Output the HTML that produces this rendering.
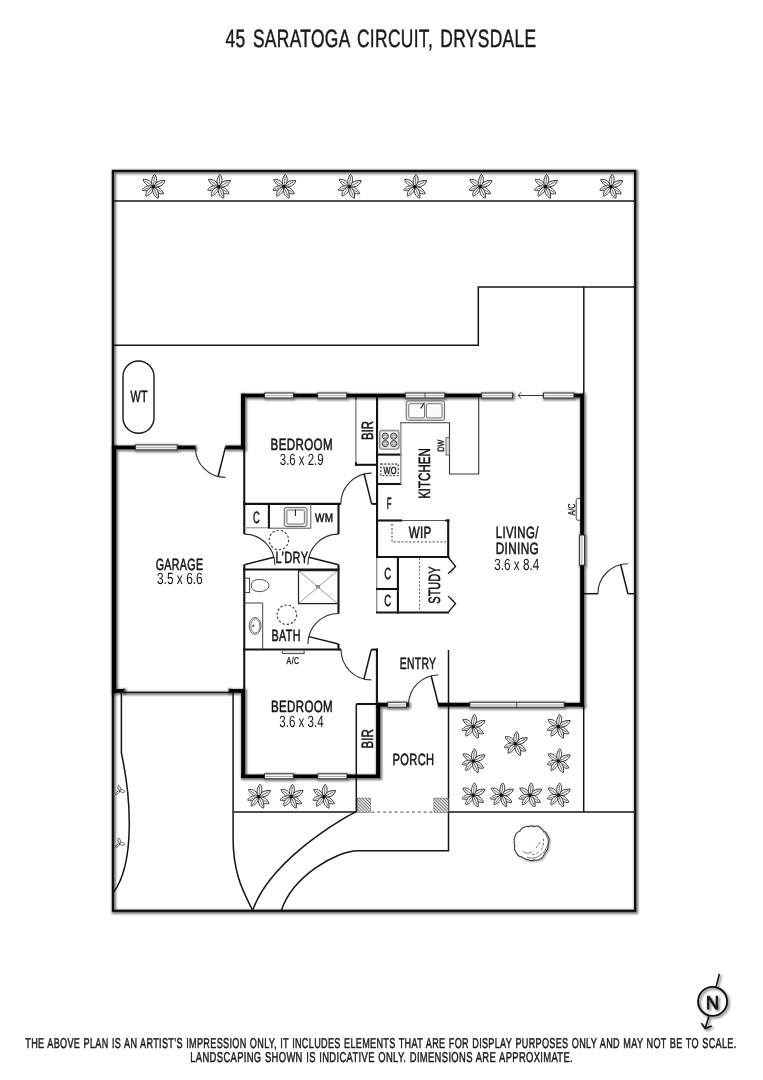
<!DOCTYPE html>
<html lang="en"><head><meta charset="utf-8"><title>45 Saratoga Circuit, Drysdale - Floor Plan</title>
<style>
html,body{margin:0;padding:0;background:#fff;}
body{width:763px;height:1080px;overflow:hidden;}
svg{display:block;will-change:transform;text-rendering:geometricPrecision;font-family:"Liberation Sans",sans-serif;}
</style></head><body>
<svg width="763" height="1080" viewBox="0 0 763 1080">
<defs>
<filter id="sh" x="-5%" y="-5%" width="110%" height="110%" filterUnits="userSpaceOnUse" >
<feMorphology in="SourceAlpha" operator="dilate" radius="0.6" result="d"/>
<feOffset in="d" dx="1.4" dy="1.4" result="o"/>
<feGaussianBlur in="o" stdDeviation="0.9" result="b"/>
<feComponentTransfer in="b" result="s"><feFuncA type="linear" slope="0.56"/></feComponentTransfer>
<feMerge><feMergeNode in="s"/><feMergeNode in="SourceGraphic"/></feMerge>
</filter>
<filter id="sh2" x="670" y="950" width="90" height="100" filterUnits="userSpaceOnUse">
<feDropShadow dx="1.6" dy="1.6" stdDeviation="1.2" flood-color="#000" flood-opacity="0.6"/>
</filter>
<filter id="sh3" x="500" y="810" width="70" height="70" filterUnits="userSpaceOnUse">
<feDropShadow dx="1" dy="1" stdDeviation="0.8" flood-color="#000" flood-opacity="0.3"/>
</filter>
<g id="petal"><path d="M0,0 C1.8,-2.6 7,-4.2 12.4,-1.4 C10,2.4 4,2.9 0,0 Z" fill="#fff" stroke="#1c1c1c" stroke-width="0.8"/><path d="M0.5,0 C3.5,-0.2 7,-0.6 10.2,-1.1" stroke="#1c1c1c" stroke-width="0.6" fill="none"/></g>
<g id="flower">
<use href="#petal" transform="rotate(-139)"/>
<use href="#petal" transform="rotate(169) scale(0.93)"/>
<use href="#petal" transform="rotate(134) scale(0.96)"/>
<use href="#petal" transform="rotate(40)"/>
<use href="#petal" transform="rotate(-21) scale(1.06)"/>
<use href="#petal" transform="rotate(73)"/>
<use href="#petal" transform="rotate(-78)"/>
<circle r="1.7" fill="#111"/>
</g>
<g id="sprig">
<path d="M0,0 C-2.2,-1.5 -2.4,-4.2 -1.1,-5.6 C0.6,-4.6 1.2,-2 0,0 Z" fill="#fff" stroke="#222" stroke-width="0.7"/>
<path d="M0,0 C1.2,-2 3.8,-1.6 5,0.8 C3.6,2.3 1.2,2 0,0 Z" fill="#fff" stroke="#222" stroke-width="0.7"/>
<path d="M0,0 C-0.4,2.3 -2.4,3.9 -4.3,3.6 C-4.2,1.6 -2.3,0 0,0 Z" fill="#fff" stroke="#222" stroke-width="0.7"/>
</g>
<pattern id="hatch" width="2.2" height="2.2" patternUnits="userSpaceOnUse" patternTransform="rotate(45)">
<rect width="2.2" height="2.2" fill="#e6e6e6"/><line x1="0" y1="0" x2="2.2" y2="0" stroke="#333" stroke-width="1.1"/>
</pattern>
</defs>
<rect width="763" height="1080" fill="#fff"/>

<text x="225.60" y="46.90" font-size="25" textLength="310.90" lengthAdjust="spacingAndGlyphs" fill="#1a1a1a" stroke="#1a1a1a" stroke-width="0.5" letter-spacing="0.5" word-spacing="3">45 SARATOGA CIRCUIT, DRYSDALE</text>
<g filter="url(#sh)">
<rect x="112.90" y="170.90" width="522.20" height="739.90" fill="none" stroke="#0a0a0a" stroke-width="2.1" />
</g>
<line x1="112.90" y1="200.90" x2="635.10" y2="200.90" stroke="#141414" stroke-width="1.5" />
<path d="M635.1,287 H478.3 V345.2 H112.9" stroke="#141414" stroke-width="1.5" fill="none" />
<line x1="583.80" y1="287.00" x2="583.80" y2="394.00" stroke="#141414" stroke-width="1.5" />
<line x1="583.70" y1="706.00" x2="583.70" y2="812.00" stroke="#141414" stroke-width="1.5" />
<line x1="448.50" y1="812.00" x2="635.10" y2="812.00" stroke="#141414" stroke-width="1.5" />
<path d="M448.5,650 V850.7 H357.9 C336.5,850.8 292.9,876 281.4,910.3" stroke="#141414" stroke-width="1.5" fill="none" />
<line x1="583.80" y1="593.70" x2="598.10" y2="593.70" stroke="#141414" stroke-width="1.5" />
<line x1="627.90" y1="593.70" x2="635.10" y2="593.70" stroke="#141414" stroke-width="1.5" />
<path d="M121.4,692.5 V753 C131.3,798.8 135,863.2 113.5,892.4" stroke="#141414" stroke-width="1.5" fill="none" />
<path d="M233.1,692.5 V835 C232.4,875.8 245.7,895.6 252.6,910.3" stroke="#141414" stroke-width="1.5" fill="none" />
<path d="M233.1,812 H356.3" stroke="#141414" stroke-width="1.5" fill="none" />
<line x1="356.30" y1="704.00" x2="356.30" y2="812.00" stroke="#141414" stroke-width="1.5" />
<path d="M356.4,811.8 C360.2,808.8 273,853.5 252.6,910.3" stroke="#141414" stroke-width="1.5" fill="none" />
<use href="#flower" x="153.3" y="186.7"/>
<use href="#flower" x="218.7" y="186.7"/>
<use href="#flower" x="284.0" y="186.7"/>
<use href="#flower" x="349.4" y="186.7"/>
<use href="#flower" x="414.8" y="186.7"/>
<use href="#flower" x="480.2" y="186.7"/>
<use href="#flower" x="545.5" y="186.7"/>
<use href="#flower" x="610.9" y="186.7"/>
<use href="#flower" x="473.2" y="726.7"/>
<use href="#flower" x="558.4" y="726.7"/>
<use href="#flower" x="515.5" y="743.9"/>
<use href="#flower" x="473.2" y="761.1"/>
<use href="#flower" x="558.4" y="761.1"/>
<use href="#flower" x="473.2" y="795.3"/>
<use href="#flower" x="501.5" y="795.3"/>
<use href="#flower" x="530" y="795.3"/>
<use href="#flower" x="558.4" y="795.3"/>
<use href="#flower" x="258.7" y="796.7"/>
<use href="#flower" x="291.2" y="796.7"/>
<use href="#flower" x="323.9" y="796.7"/>
<use href="#sprig" x="119.8" y="790.8"/><use href="#sprig" x="119.8" y="843.6"/>
<g filter="url(#sh3)">
<path d="M548.28,843.20 Q548.97,844.57 547.86,845.79 Q548.66,847.34 547.70,848.46 Q547.85,849.95 546.33,850.76 Q546.36,852.30 544.85,852.90 Q544.89,854.66 543.55,855.25 Q543.36,857.14 542.00,857.66 Q541.24,859.07 539.53,858.95 Q538.58,860.29 536.95,859.96 Q535.75,860.73 534.12,859.75 Q532.88,861.00 531.50,860.46 Q530.11,861.04 528.87,859.84 Q527.40,860.32 526.35,859.06 Q524.82,859.34 523.98,857.96 Q522.35,858.12 521.66,856.75 Q519.67,856.98 518.85,855.85 Q517.32,855.32 517.16,853.62 Q515.68,852.90 515.74,851.23 Q514.38,850.29 514.68,848.66 Q513.97,847.45 515.00,845.81 Q513.90,844.58 514.60,843.20 Q513.56,841.77 514.31,840.48 Q513.67,838.91 514.79,837.77 Q514.40,836.11 515.67,835.13 Q515.61,833.46 517.09,832.73 Q517.76,831.54 519.81,831.51 Q519.96,829.64 521.29,829.15 Q521.96,827.62 523.57,827.63 Q524.53,826.40 526.18,826.83 Q527.32,825.90 528.89,826.72 Q530.13,825.48 531.50,826.04 Q532.86,825.55 534.09,826.86 Q535.77,825.65 537.03,826.18 Q538.65,825.94 539.57,827.35 Q541.08,827.52 541.65,829.22 Q543.13,829.56 543.44,831.26 Q545.38,831.40 545.94,832.71 Q547.20,833.55 546.93,835.34 Q548.52,836.17 548.44,837.70 Q549.61,838.85 549.04,840.42 Q549.56,841.74 548.28,843.20 Z" stroke="#3c3c3c" stroke-width="1.1" fill="#fff" />
</g>
<path d="M523,851.5 C526,854 530,853.5 532,851.5" stroke="#555" stroke-width="0.8" fill="none" />
<path d="M532,854 C535,855.5 538,853 539,850" stroke="#555" stroke-width="0.8" fill="none" stroke-dasharray="3 1.5"/>
<path d="M536,848 C538,845 540,843 541,841" stroke="#555" stroke-width="0.8" fill="none" stroke-dasharray="3 1.5"/>
<path d="M527,857 C535,861 546,854 548,843 C548.5,838 546,834 542.5,831" stroke="#555" stroke-width="0.8" fill="none" />
<path d="M541,850 C543.5,846 544.5,842 543,838" stroke="#555" stroke-width="0.8" fill="none" stroke-dasharray="3 1.5"/>
<rect x="123" y="361" width="31" height="72.3" rx="15.5" ry="15.5" fill="#fff" stroke="#141414" stroke-width="1.4"/>
<text x="130.40" y="402.10" font-size="16.3" textLength="17.40" lengthAdjust="spacingAndGlyphs" fill="#141414" stroke="#141414" stroke-width="0.55" letter-spacing="0.5" >WT</text>
<rect x="357.30" y="798.10" width="13.30" height="14.30" fill="url(#hatch)" stroke="#555" stroke-width="0.5" />
<rect x="433.90" y="798.10" width="14.40" height="14.30" fill="url(#hatch)" stroke="#555" stroke-width="0.5" />
<line x1="371.50" y1="812.10" x2="433.90" y2="812.10" stroke="#444" stroke-width="1" stroke-dasharray="2.8 3"/>
<g filter="url(#sh)" fill="#050505">
<rect x="112.20" y="445.60" width="3.80" height="247.20" fill="#050505" stroke="none" stroke-width="0" />
<rect x="112.20" y="445.60" width="23.40" height="3.60" fill="#050505" stroke="none" stroke-width="0" />
<rect x="176.90" y="445.60" width="18.50" height="3.60" fill="#050505" stroke="none" stroke-width="0" />
<rect x="225.40" y="445.60" width="19.50" height="3.60" fill="#050505" stroke="none" stroke-width="0" />
<rect x="112.20" y="689.05" width="11.50" height="3.70" fill="#050505" stroke="none" stroke-width="0" />
<rect x="229.40" y="689.05" width="15.60" height="3.70" fill="#050505" stroke="none" stroke-width="0" />
<rect x="241.05" y="393.70" width="3.90" height="55.50" fill="#050505" stroke="none" stroke-width="0" />
<rect x="241.05" y="393.70" width="23.75" height="3.60" fill="#050505" stroke="none" stroke-width="0" />
<rect x="293.10" y="393.70" width="24.70" height="3.60" fill="#050505" stroke="none" stroke-width="0" />
<rect x="346.40" y="393.70" width="59.20" height="3.60" fill="#050505" stroke="none" stroke-width="0" />
<rect x="444.50" y="393.70" width="37.40" height="3.60" fill="#050505" stroke="none" stroke-width="0" />
<rect x="573.70" y="393.70" width="10.35" height="3.60" fill="#050505" stroke="none" stroke-width="0" />
<rect x="580.18" y="393.70" width="3.85" height="141.60" fill="#050505" stroke="none" stroke-width="0" />
<rect x="580.18" y="564.90" width="3.85" height="141.65" fill="#050505" stroke="none" stroke-width="0" />
<rect x="376.20" y="702.85" width="11.70" height="3.70" fill="#050505" stroke="none" stroke-width="0" />
<rect x="406.40" y="702.85" width="2.50" height="3.70" fill="#050505" stroke="none" stroke-width="0" />
<rect x="438.00" y="702.85" width="32.10" height="3.70" fill="#050505" stroke="none" stroke-width="0" />
<rect x="563.90" y="702.85" width="20.15" height="3.70" fill="#050505" stroke="none" stroke-width="0" />
<rect x="376.15" y="702.85" width="3.90" height="75.15" fill="#050505" stroke="none" stroke-width="0" />
<rect x="241.20" y="689.10" width="3.80" height="88.90" fill="#050505" stroke="none" stroke-width="0" />
<rect x="241.20" y="774.55" width="23.60" height="3.50" fill="#050505" stroke="none" stroke-width="0" />
<rect x="293.10" y="774.55" width="24.90" height="3.50" fill="#050505" stroke="none" stroke-width="0" />
<rect x="346.40" y="774.55" width="33.65" height="3.50" fill="#050505" stroke="none" stroke-width="0" />
<rect x="135.40" y="444.95" width="41.70" height="4.90" fill="#f8f8f8" stroke="#262626" stroke-width="0.9" />
<line x1="135.90" y1="447.60" x2="176.60" y2="447.60" stroke="#999" stroke-width="0.8" />
<rect x="264.60" y="393.05" width="28.70" height="4.90" fill="#f8f8f8" stroke="#262626" stroke-width="0.9" />
<line x1="265.10" y1="395.70" x2="292.80" y2="395.70" stroke="#999" stroke-width="0.8" />
<rect x="317.60" y="393.05" width="29.00" height="4.90" fill="#f8f8f8" stroke="#262626" stroke-width="0.9" />
<line x1="318.10" y1="395.70" x2="346.10" y2="395.70" stroke="#999" stroke-width="0.8" />
<rect x="405.40" y="393.05" width="39.30" height="4.90" fill="#f8f8f8" stroke="#262626" stroke-width="0.9" />
<line x1="405.90" y1="395.70" x2="444.20" y2="395.70" stroke="#999" stroke-width="0.8" />
<line x1="425.00" y1="393.05" x2="425.00" y2="397.95" stroke="#333" stroke-width="0.8" />
<rect x="481.70" y="393.05" width="30.80" height="4.90" fill="#f8f8f8" stroke="#262626" stroke-width="0.9" />
<line x1="482.20" y1="395.70" x2="512.00" y2="395.70" stroke="#999" stroke-width="0.8" />
<rect x="543.50" y="393.05" width="30.40" height="4.90" fill="#f8f8f8" stroke="#262626" stroke-width="0.9" />
<line x1="544.00" y1="395.70" x2="573.40" y2="395.70" stroke="#999" stroke-width="0.8" />
<rect x="579.65" y="535.10" width="4.90" height="30.00" fill="#f8f8f8" stroke="#262626" stroke-width="0.9" />
<line x1="581.90" y1="535.60" x2="581.90" y2="564.60" stroke="#999" stroke-width="0.8" />
<rect x="387.70" y="702.25" width="18.90" height="4.90" fill="#f8f8f8" stroke="#262626" stroke-width="0.9" />
<line x1="388.20" y1="704.90" x2="406.10" y2="704.90" stroke="#999" stroke-width="0.8" />
<rect x="469.90" y="702.25" width="94.20" height="4.90" fill="#f8f8f8" stroke="#262626" stroke-width="0.9" />
<line x1="470.40" y1="704.90" x2="563.60" y2="704.90" stroke="#999" stroke-width="0.8" />
<line x1="516.70" y1="702.25" x2="516.70" y2="707.15" stroke="#333" stroke-width="0.8" />
<rect x="264.60" y="773.85" width="28.70" height="4.90" fill="#f8f8f8" stroke="#262626" stroke-width="0.9" />
<line x1="265.10" y1="776.50" x2="292.80" y2="776.50" stroke="#999" stroke-width="0.8" />
<rect x="317.80" y="773.85" width="29.10" height="4.90" fill="#f8f8f8" stroke="#262626" stroke-width="0.9" />
<line x1="318.30" y1="776.50" x2="346.40" y2="776.50" stroke="#999" stroke-width="0.8" />
</g>
<path d="M543,395.5 H518 M521.3,392.3 L518,395.5 L521.3,398.7" stroke="#222" stroke-width="0.9" fill="none" />
<g filter="url(#sh)">
<path d="M123.9,688.6 V692.4 H229.2 V688.6" stroke="#141414" stroke-width="1.1" fill="none" />
</g>
<line x1="244.25" y1="449.00" x2="244.25" y2="534.10" stroke="#141414" stroke-width="2.1" />
<line x1="244.25" y1="564.70" x2="244.25" y2="690.00" stroke="#141414" stroke-width="2.1" />
<line x1="243.20" y1="503.90" x2="340.90" y2="503.90" stroke="#141414" stroke-width="2.1" />
<line x1="371.60" y1="503.90" x2="378.00" y2="503.90" stroke="#141414" stroke-width="2" />
<line x1="377.05" y1="397.00" x2="377.05" y2="557.00" stroke="#141414" stroke-width="2.1" />
<line x1="376.80" y1="557.00" x2="376.80" y2="612.50" stroke="#666" stroke-width="1" />
<line x1="338.50" y1="503.00" x2="338.50" y2="534.10" stroke="#141414" stroke-width="2.1" />
<line x1="338.50" y1="564.70" x2="338.50" y2="613.90" stroke="#141414" stroke-width="2.1" />
<line x1="338.50" y1="644.00" x2="338.50" y2="650.40" stroke="#141414" stroke-width="2.1" />
<line x1="243.20" y1="569.50" x2="339.50" y2="569.50" stroke="#141414" stroke-width="2.1" />
<line x1="243.20" y1="649.50" x2="341.20" y2="649.50" stroke="#141414" stroke-width="2.1" />
<line x1="371.30" y1="649.60" x2="378.00" y2="649.60" stroke="#141414" stroke-width="2" />
<line x1="376.90" y1="648.60" x2="376.90" y2="703.00" stroke="#141414" stroke-width="2.1" />
<line x1="355.90" y1="397.00" x2="355.90" y2="464.50" stroke="#8e8e8e" stroke-width="1.5" />
<line x1="355.90" y1="397.00" x2="355.90" y2="399.40" stroke="#141414" stroke-width="1.6" />
<line x1="355.90" y1="461.90" x2="355.90" y2="465.80" stroke="#141414" stroke-width="1.8" />
<line x1="355.00" y1="464.80" x2="377.00" y2="464.80" stroke="#141414" stroke-width="2.1" />
<line x1="377.00" y1="454.60" x2="401.40" y2="454.60" stroke="#141414" stroke-width="2.1" />
<line x1="377.00" y1="484.00" x2="401.40" y2="484.00" stroke="#141414" stroke-width="2.1" />
<line x1="400.80" y1="422.70" x2="400.80" y2="484.00" stroke="#8e8e8e" stroke-width="1.4" />
<path d="M400.2,422.7 H449.5 V474 H478.7 V397" stroke="#3a3a3a" stroke-width="1.15" fill="none" />
<line x1="377.00" y1="520.50" x2="402.00" y2="520.50" stroke="#141414" stroke-width="2.1" />
<line x1="402.00" y1="520.50" x2="446.00" y2="520.50" stroke="#555" stroke-width="1" />
<line x1="445.40" y1="520.50" x2="449.40" y2="520.50" stroke="#141414" stroke-width="2.1" />
<line x1="448.20" y1="519.40" x2="448.20" y2="558.00" stroke="#141414" stroke-width="2.1" />
<line x1="376.00" y1="557.00" x2="449.40" y2="557.00" stroke="#141414" stroke-width="2.1" />
<path d="M392,524 V541.8 H446" stroke="#666" stroke-width="1.3" fill="none" stroke-dasharray="2 1.9"/>
<line x1="397.90" y1="557.00" x2="397.90" y2="613.60" stroke="#141414" stroke-width="2.1" />
<line x1="376.00" y1="589.00" x2="399.00" y2="589.00" stroke="#141414" stroke-width="2.1" />
<line x1="376.00" y1="612.50" x2="449.00" y2="612.50" stroke="#141414" stroke-width="2.1" />
<line x1="419.50" y1="558.00" x2="419.50" y2="612.00" stroke="#555" stroke-width="0.9" stroke-dasharray="2 1.8"/>
<path d="M448.4,557.5 L455.6,566.5 L448.1,573.8" stroke="#141414" stroke-width="1.3" fill="none" />
<path d="M448.4,612.2 L455.6,603.5 L448.1,596.1" stroke="#141414" stroke-width="1.3" fill="none" />
<path d="M452.6,568.6 l1.5,1.6 M451.4,569.8 l1.5,1.6 M450.2,571 l1.5,1.6 M452.6,601.4 l1.5,-1.6 M451.4,600.2 l1.5,-1.6 M450.2,599 l1.5,-1.6" stroke="#222" stroke-width="0.7" fill="none" />
<line x1="268.90" y1="504.00" x2="268.90" y2="528.60" stroke="#141414" stroke-width="2.1" />
<path d="M244,527.8 H268" stroke="#777" stroke-width="0.9" fill="none" />
<path d="M268.9,528.2 H310.8 V504" stroke="#555" stroke-width="1" fill="none" />
<line x1="356.30" y1="704.00" x2="378.00" y2="704.00" stroke="#141414" stroke-width="2.1" />
<path d="M195.40,447.40 A30,30 0 0 0 225.40,477.40" stroke="#2e2e2e" stroke-width="1.1" fill="none" />
<line x1="225.40" y1="447.40" x2="218.14" y2="476.51" stroke="#141414" stroke-width="1.5" />
<path d="M340.80,503.90 A30.8,30.8 0 0 1 371.60,473.10" stroke="#2e2e2e" stroke-width="1.1" fill="none" />
<line x1="371.60" y1="503.90" x2="364.15" y2="474.01" stroke="#141414" stroke-width="1.5" />
<path d="M244.25,534.10 A30.6,30.6 0 0 1 274.85,564.70" stroke="#2e2e2e" stroke-width="1.1" fill="none" />
<line x1="244.25" y1="564.70" x2="273.94" y2="557.30" stroke="#141414" stroke-width="1.5" />
<path d="M338.50,534.10 A30.6,30.6 0 0 0 307.90,564.70" stroke="#2e2e2e" stroke-width="1.1" fill="none" />
<line x1="338.50" y1="564.70" x2="308.81" y2="557.30" stroke="#141414" stroke-width="1.5" />
<path d="M338.40,613.50 A30.5,30.5 0 0 0 307.90,644.00" stroke="#2e2e2e" stroke-width="1.1" fill="none" />
<line x1="338.40" y1="644.00" x2="308.81" y2="636.62" stroke="#141414" stroke-width="1.5" />
<path d="M341.00,649.60 A30.3,30.3 0 0 0 371.30,679.90" stroke="#2e2e2e" stroke-width="1.1" fill="none" />
<line x1="371.30" y1="649.60" x2="363.97" y2="679.00" stroke="#141414" stroke-width="1.5" />
<path d="M408.60,704.80 A29.8,29.8 0 0 1 438.40,675.00" stroke="#2e2e2e" stroke-width="1.1" fill="none" />
<line x1="438.40" y1="704.80" x2="431.19" y2="675.89" stroke="#141414" stroke-width="1.5" />
<path d="M597.90,593.70 A30,30 0 0 1 627.90,563.70" stroke="#2e2e2e" stroke-width="1.1" fill="none" />
<line x1="627.90" y1="593.70" x2="620.64" y2="564.59" stroke="#141414" stroke-width="1.5" />
<rect x="406.2" y="400.9" width="38.4" height="19.4" rx="2.2" fill="#e9e9e9" stroke="#555" stroke-width="0.9"/>
<rect x="408.8" y="403.7" width="15.7" height="14.2" rx="1.6" fill="#fbfbfb" stroke="#555" stroke-width="0.8"/>
<rect x="426.4" y="403.7" width="15.7" height="14.2" rx="1.6" fill="#fbfbfb" stroke="#555" stroke-width="0.8"/>
<line x1="424.50" y1="402.70" x2="420.60" y2="408.40" stroke="#222" stroke-width="1.1" />
<rect x="379.6" y="430.3" width="19.4" height="18.9" rx="2.4" fill="#e4e4e4" stroke="#7a7a7a" stroke-width="1.1"/>
<rect x="380.8" y="431.5" width="17" height="16.5" rx="1.6" fill="#f7f7f7" stroke="#aaa" stroke-width="0.5"/>
<circle cx="385.3" cy="436.2" r="3.1" fill="#cfcfcf" stroke="#3a3a3a" stroke-width="1"/><circle cx="385.3" cy="436.2" r="1.5" fill="#e8e8e8" stroke="#666" stroke-width="0.5"/>
<circle cx="393.7" cy="436.2" r="3.1" fill="#cfcfcf" stroke="#3a3a3a" stroke-width="1"/><circle cx="393.7" cy="436.2" r="1.5" fill="#e8e8e8" stroke="#666" stroke-width="0.5"/>
<circle cx="385.3" cy="443.6" r="3.1" fill="#cfcfcf" stroke="#3a3a3a" stroke-width="1"/><circle cx="385.3" cy="443.6" r="1.5" fill="#e8e8e8" stroke="#666" stroke-width="0.5"/>
<circle cx="393.7" cy="443.6" r="3.1" fill="#cfcfcf" stroke="#3a3a3a" stroke-width="1"/><circle cx="393.7" cy="443.6" r="1.5" fill="#e8e8e8" stroke="#666" stroke-width="0.5"/>
<rect x="380.80" y="464.00" width="17.50" height="11.70" fill="#f0f0f0" stroke="#555" stroke-width="1.3" stroke-dasharray="2 1.6"/>
<text x="383.40" y="473.50" font-size="10.2" textLength="13.40" lengthAdjust="spacingAndGlyphs" fill="#141414" stroke="#141414" stroke-width="0.4" letter-spacing="0.5" >WO</text>
<rect x="446.00" y="437.30" width="3.30" height="17.80" fill="#ddd" stroke="#555" stroke-width="0.8" />
<text transform="translate(444.00,451.70) rotate(-90)" x="0" y="0" font-size="9.2" textLength="11.90" lengthAdjust="spacingAndGlyphs" fill="#141414" stroke="#141414" stroke-width="0.35">DW</text>
<rect x="284.3" y="507.4" width="22.7" height="19.1" rx="2.2" fill="#e6e6e6" stroke="#555" stroke-width="0.9"/>
<rect x="286.9" y="510" width="17.5" height="14" rx="1.6" fill="#fbfbfb" stroke="#555" stroke-width="0.8"/>
<line x1="295.40" y1="509.50" x2="295.40" y2="516.00" stroke="#222" stroke-width="1.1" />
<circle cx="278.9" cy="540" r="9.7" fill="none" stroke="#3a3a3a" stroke-width="1.1" stroke-dasharray="2.4 1.9"/>
<circle cx="286.8" cy="614.7" r="9.7" fill="none" stroke="#3a3a3a" stroke-width="1.1" stroke-dasharray="2.4 1.9"/>
<path d="M337.6,570.6 H298.5 V603.6 H337.6" stroke="#222" stroke-width="1.2" fill="none" />
<path d="M298.5,570.6 L337.6,603.6 M337.6,570.6 L298.5,603.6" stroke="#555" stroke-width="0.6" fill="none" />
<rect x="316.80" y="585.60" width="2.40" height="2.40" fill="#999" stroke="#444" stroke-width="0.5" />
<rect x="245.00" y="578.20" width="4.60" height="14.40" fill="#fff" stroke="#333" stroke-width="0.9" />
<path d="M251.3,585.5 C251.3,581 255,579.5 259.5,579.5 C265,579.5 268.9,582 268.9,585.5 C268.9,589 265,591.6 259.5,591.6 C255,591.6 251.3,590 251.3,585.5 Z" fill="#fff" stroke="#333" stroke-width="0.9"/>
<path d="M244,603 H262.7 V649" stroke="#444" stroke-width="1" fill="none" />
<ellipse cx="255.1" cy="625.9" rx="5.9" ry="8.5" fill="#eee" stroke="#444" stroke-width="0.8"/><ellipse cx="255.3" cy="625.9" rx="4.5" ry="7" fill="#fff" stroke="#555" stroke-width="0.7"/>
<path d="M251.8,625.9 h3 M253.3,624.4 v3" stroke="#333" stroke-width="0.7" fill="none" />
<path d="M282.2,651 V653.6 H304.2 V651" fill="#e4e4e4" stroke="#333" stroke-width="0.9"/>
<text x="286.60" y="664.00" font-size="9.9" textLength="12.80" lengthAdjust="spacingAndGlyphs" fill="#141414" stroke="#141414" stroke-width="0.3" letter-spacing="0.5" >A/C</text>
<path d="M580,498.4 H577.6 Q576.2,498.4 576.2,499.8 V518.8 Q576.2,520.2 577.6,520.2 H580" fill="#fff" stroke="#333" stroke-width="0.9"/>
<text transform="translate(574.70,515.60) rotate(-90)" x="0" y="0" font-size="9.9" textLength="12.20" lengthAdjust="spacingAndGlyphs" fill="#141414" stroke="#141414" stroke-width="0.3">A/C</text>
<text x="270.60" y="450.30" font-size="16.3" textLength="62.40" lengthAdjust="spacingAndGlyphs" fill="#141414" stroke="#141414" stroke-width="0.55" letter-spacing="0.5" >BEDROOM</text>
<text x="279.80" y="464.60" font-size="16.3" textLength="43.70" lengthAdjust="spacingAndGlyphs" fill="#141414"  >3.6 x 2.9</text>
<text x="155.70" y="569.60" font-size="16.3" textLength="47.70" lengthAdjust="spacingAndGlyphs" fill="#141414" stroke="#141414" stroke-width="0.55" letter-spacing="0.5" >GARAGE</text>
<text x="157.00" y="584.30" font-size="16.3" textLength="45.70" lengthAdjust="spacingAndGlyphs" fill="#141414"  >3.5 x 6.6</text>
<text x="252.90" y="522.60" font-size="16.6" textLength="7.10" lengthAdjust="spacingAndGlyphs" fill="#141414" stroke="#141414" stroke-width="0.55" letter-spacing="0.5" >C</text>
<text x="315.00" y="521.50" font-size="12.2" textLength="18.50" lengthAdjust="spacingAndGlyphs" fill="#141414" stroke="#141414" stroke-width="0.5" letter-spacing="0.5" >WM</text>
<text x="275.50" y="562.60" font-size="16.3" textLength="32.90" lengthAdjust="spacingAndGlyphs" fill="#141414" stroke="#141414" stroke-width="0.55" letter-spacing="0.5" >L’DRY</text>
<text x="271.60" y="641.00" font-size="16.3" textLength="29.20" lengthAdjust="spacingAndGlyphs" fill="#141414" stroke="#141414" stroke-width="0.55" letter-spacing="0.5" >BATH</text>
<text x="270.90" y="712.20" font-size="16.3" textLength="62.20" lengthAdjust="spacingAndGlyphs" fill="#141414" stroke="#141414" stroke-width="0.55" letter-spacing="0.5" >BEDROOM</text>
<text x="279.30" y="727.40" font-size="16.3" textLength="44.40" lengthAdjust="spacingAndGlyphs" fill="#141414"  >3.6 x 3.4</text>
<text x="399.70" y="668.60" font-size="16.3" textLength="36.70" lengthAdjust="spacingAndGlyphs" fill="#141414" stroke="#141414" stroke-width="0.55" letter-spacing="0.5" >ENTRY</text>
<text x="392.60" y="765.30" font-size="16.3" textLength="41.90" lengthAdjust="spacingAndGlyphs" fill="#141414" stroke="#141414" stroke-width="0.55" letter-spacing="0.5" >PORCH</text>
<text x="386.80" y="509.30" font-size="16.3" textLength="5.00" lengthAdjust="spacingAndGlyphs" fill="#141414" stroke="#141414" stroke-width="0.55" letter-spacing="0.5" >F</text>
<text x="408.70" y="537.80" font-size="16.3" textLength="22.90" lengthAdjust="spacingAndGlyphs" fill="#141414" stroke="#141414" stroke-width="0.55" letter-spacing="0.5" >WIP</text>
<text x="384.20" y="578.80" font-size="16.2" textLength="7.20" lengthAdjust="spacingAndGlyphs" fill="#141414" stroke="#141414" stroke-width="0.55" letter-spacing="0.5" >C</text>
<text x="384.20" y="605.70" font-size="16.2" textLength="7.20" lengthAdjust="spacingAndGlyphs" fill="#141414" stroke="#141414" stroke-width="0.55" letter-spacing="0.5" >C</text>
<text x="495.70" y="538.20" font-size="16.3" textLength="43.00" lengthAdjust="spacingAndGlyphs" fill="#141414" stroke="#141414" stroke-width="0.55" letter-spacing="0.5" >LIVING/</text>
<text x="495.70" y="554.40" font-size="16.3" textLength="43.40" lengthAdjust="spacingAndGlyphs" fill="#141414" stroke="#141414" stroke-width="0.55" letter-spacing="0.5" >DINING</text>
<text x="494.30" y="569.50" font-size="16.3" textLength="45.00" lengthAdjust="spacingAndGlyphs" fill="#141414"  >3.6 x 8.4</text>
<text transform="translate(372.80,440.00) rotate(-90)" x="0" y="0" font-size="16.3" textLength="19.10" lengthAdjust="spacingAndGlyphs" fill="#141414" stroke="#141414" stroke-width="0.55">BIR</text>
<text transform="translate(430.10,498.80) rotate(-90)" x="0" y="0" font-size="16.3" textLength="50.50" lengthAdjust="spacingAndGlyphs" fill="#141414" stroke="#141414" stroke-width="0.55">KITCHEN</text>
<text transform="translate(439.50,603.70) rotate(-90)" x="0" y="0" font-size="16.3" textLength="37.30" lengthAdjust="spacingAndGlyphs" fill="#141414" stroke="#141414" stroke-width="0.55">STUDY</text>
<text transform="translate(373.00,748.40) rotate(-90)" x="0" y="0" font-size="16.3" textLength="19.20" lengthAdjust="spacingAndGlyphs" fill="#141414" stroke="#141414" stroke-width="0.55">BIR</text>
<text x="25.30" y="1047.90" font-size="14.3" textLength="711.20" lengthAdjust="spacingAndGlyphs" fill="#1a1a1a" stroke="#1a1a1a" stroke-width="0.5" letter-spacing="0.5" word-spacing="0.8">THE ABOVE PLAN IS AN ARTIST’S IMPRESSION ONLY, IT INCLUDES ELEMENTS THAT ARE FOR DISPLAY PURPOSES ONLY AND MAY NOT BE TO SCALE.</text>
<text x="190.30" y="1061.60" font-size="14.3" textLength="382.70" lengthAdjust="spacingAndGlyphs" fill="#1a1a1a" stroke="#1a1a1a" stroke-width="0.5" letter-spacing="0.5" word-spacing="0.8">LANDSCAPING SHOWN IS INDICATIVE ONLY. DIMENSIONS ARE APPROXIMATE.</text>
<g filter="url(#sh2)">
<path d="M719.4,973.9 L716.1,986.6 M708.9,1016.2 L705.2,1028.3" stroke="#111" stroke-width="1.6" fill="none" />
<path d="M701.4,1023.1 L705.1,1028.6 L711.7,1025.9" stroke="#111" stroke-width="1.6" fill="none" stroke-linejoin="miter"/>
<circle cx="712.6" cy="1001.4" r="14.5" fill="none" stroke="#111" stroke-width="1.9"/>
<text x="712.4" y="1008.5" font-size="18.6" text-anchor="middle" fill="#111" stroke="#111" stroke-width="0.75">N</text>
</g>
</svg></body></html>
